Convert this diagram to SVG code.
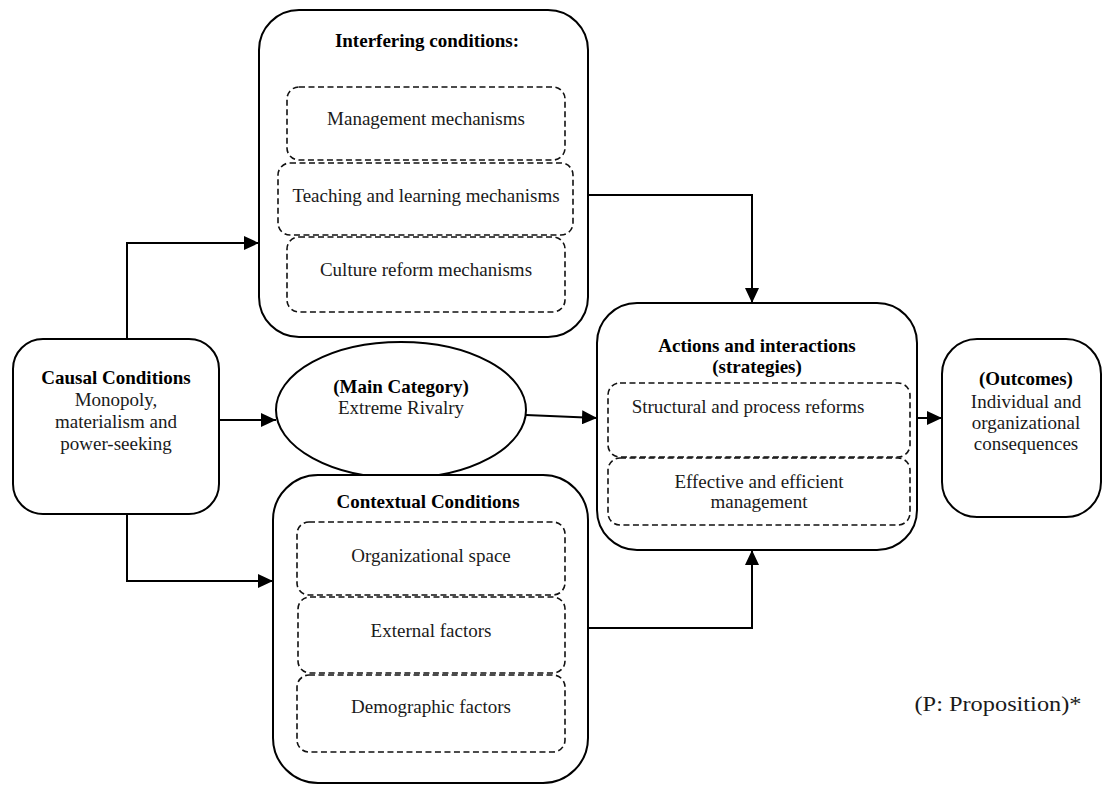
<svg xmlns="http://www.w3.org/2000/svg" width="1104" height="785" viewBox="0 0 1104 785">
<defs>
<marker id="arr" viewBox="0 0 15 14" refX="15" refY="7" markerWidth="15" markerHeight="14" markerUnits="userSpaceOnUse" orient="auto">
<path d="M0,0 L15,7 L0,14 Z" fill="#000"/>
</marker>
<style>
.box{fill:#fff;stroke:#000;stroke-width:2}
.dash{fill:none;stroke:#111;stroke-width:1.6;stroke-dasharray:6 3.5}
.t{font-family:"Liberation Serif","Times New Roman",serif;font-size:19px;fill:#1a1a1a;text-anchor:middle}
.b{font-weight:bold;fill:#000}
.con{fill:none;stroke:#000;stroke-width:2}
</style>
</defs>
<rect width="1104" height="785" fill="#fff"/>

<g id="interfering">
<rect class="box" x="259" y="10" width="329" height="327" rx="40"/>
<text class="t b" x="427" y="47">Interfering conditions:</text>
<rect class="dash" x="287" y="87" width="278" height="73" rx="12"/>
<text class="t" x="426" y="125">Management mechanisms</text>
<rect class="dash" x="278" y="163" width="295" height="72" rx="12"/>
<text class="t" x="426" y="202">Teaching and learning mechanisms</text>
<rect class="dash" x="287" y="237" width="278" height="75" rx="12"/>
<text class="t" x="426" y="276">Culture reform mechanisms</text>
</g>

<g id="causal">
<rect class="box" x="13" y="339" width="206" height="175" rx="30"/>
<text class="t b" x="116" y="384">Causal Conditions</text>
<text class="t" x="116" y="406">Monopoly,</text>
<text class="t" x="116" y="428">materialism and</text>
<text class="t" x="116" y="450">power-seeking</text>
</g>

<g id="main-category">
<ellipse cx="401" cy="410" rx="125" ry="68" fill="#fff" stroke="#000" stroke-width="2"/>
<text class="t b" x="401" y="393">(Main Category)</text>
<text class="t" x="401" y="414">Extreme Rivalry</text>
</g>

<g id="actions">
<rect class="box" x="597" y="303" width="320" height="247" rx="40"/>
<text class="t b" x="757" y="352">Actions and interactions</text>
<text class="t b" x="757" y="373">(strategies)</text>
<rect class="dash" x="608" y="383" width="302" height="74" rx="12"/>
<text class="t" x="748" y="413">Structural and process reforms</text>
<rect class="dash" x="608" y="458" width="302" height="67" rx="12"/>
<text class="t" x="759" y="488">Effective and efficient</text>
<text class="t" x="759" y="508">management</text>
</g>

<g id="outcomes">
<rect class="box" x="942" y="339" width="159" height="178" rx="35"/>
<text class="t b" x="1026" y="385">(Outcomes)</text>
<text class="t" x="1026" y="408">Individual and</text>
<text class="t" x="1026" y="429">organizational</text>
<text class="t" x="1026" y="450">consequences</text>
</g>

<g id="contextual">
<rect class="box" x="273" y="475" width="315" height="308" rx="45"/>
<text class="t b" x="428" y="508">Contextual Conditions</text>
<rect class="dash" x="297" y="522" width="268" height="73" rx="12"/>
<text class="t" x="431" y="562">Organizational space</text>
<rect class="dash" x="298" y="597" width="267" height="76" rx="12"/>
<text class="t" x="431" y="637">External factors</text>
<rect class="dash" x="297" y="675" width="268" height="77" rx="12"/>
<text class="t" x="431" y="713">Demographic factors</text>
</g>

<g id="note">
<text class="t" x="998" y="711" textLength="167" lengthAdjust="spacingAndGlyphs" style="font-size:22px">(P: Proposition)*</text>
</g>

<g id="connectors">
<path class="con" d="M127,339 V243 H259" marker-end="url(#arr)"/>
<path class="con" d="M127,514 V581 H273" marker-end="url(#arr)"/>
<path class="con" d="M219,420 H276" marker-end="url(#arr)"/>
<path class="con" d="M526,415 L597,418" marker-end="url(#arr)"/>
<path class="con" d="M917,418 H942" marker-end="url(#arr)"/>
<path class="con" d="M588,195 H752 V303" marker-end="url(#arr)"/>
<path class="con" d="M588,628 H752 V550" marker-end="url(#arr)"/>
</g>
</svg>
